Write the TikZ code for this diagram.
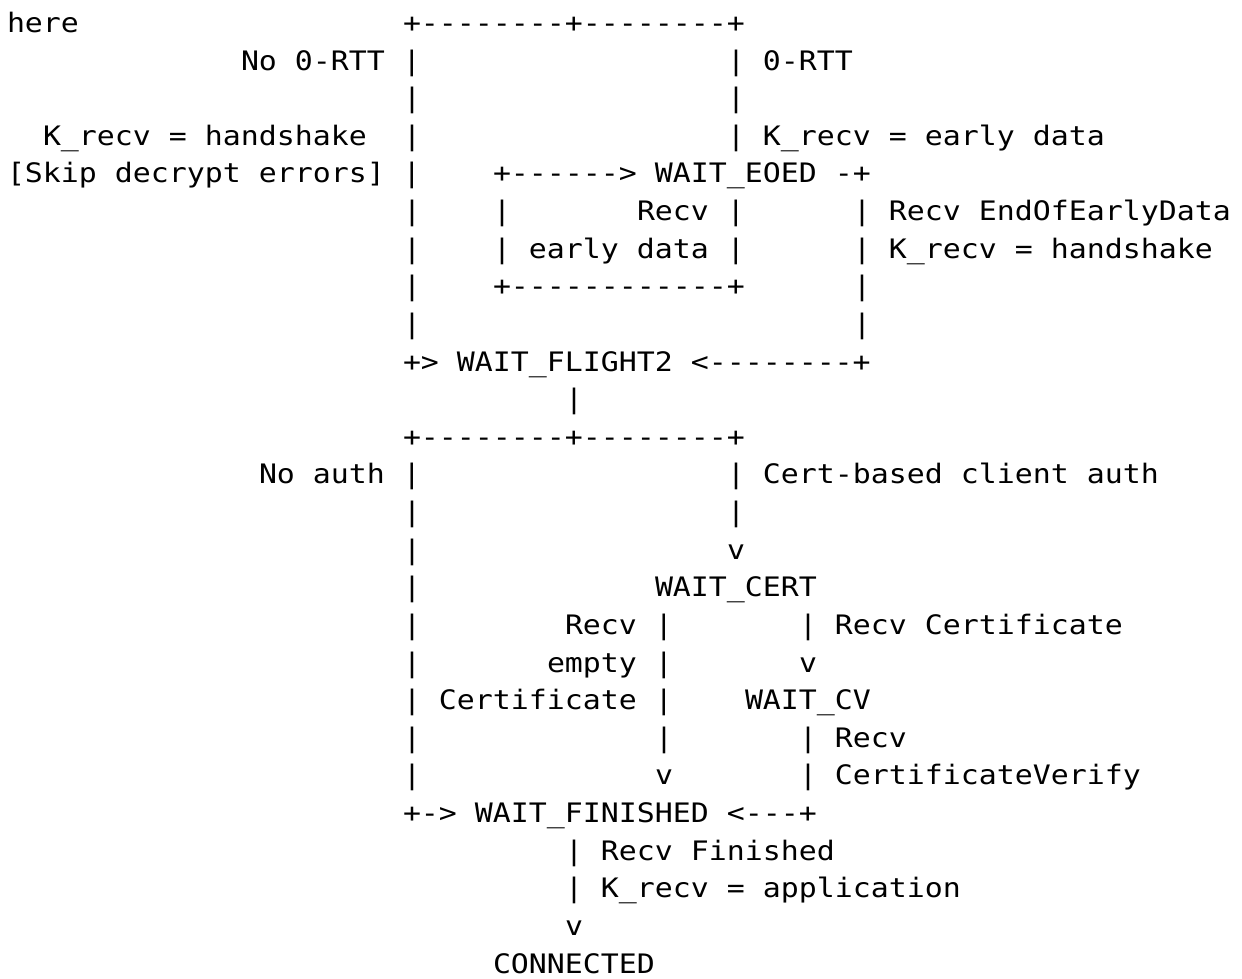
\documentclass[tikz,border=0pt]{standalone}
\usepackage{fontspec}
\setmonofont{DejaVu Sans Mono}[FakeStretch=1.115]
\tikzset{
  txt/.style={anchor=base west, inner sep=0pt, outer sep=0pt,
    font=\ttfamily\fontsize{26.8}{32}\selectfont, text=black}
}
\newcommand\seg[5][]{\node[txt,#1] (#2) at (#3,#4) {#5};}
\begin{document}
\frenchspacing
\begin{tikzpicture}
\useasboundingbox[fill=white] (0pt,0pt) rectangle (1242pt,-978pt);
\begin{scope}[x=18pt,y=-37.62pt,shift={(7pt,5.12pt)}]
% line 1
\seg{a1}{0}{1}{here}
\seg{b1}{22}{1}{+--------+--------+}
% line 2
\seg{a2}{13}{2}{No 0-RTT |}
\seg{b2}{40}{2}{| 0-RTT}
% line 3
\seg{a3}{22}{3}{|}
\seg{b3}{40}{3}{|}
% line 4
\seg{a4}{2}{4}{K\_recv = handshake}
\seg{b4}{22}{4}{|}
\seg{c4}{40}{4}{| K\_recv = early data}
% line 5
\seg{a5}{0}{5}{[Skip decrypt errors] |}
\seg{b5}{27}{5}{+------> WAIT\_EOED -+}
% line 6
\seg{a6}{22}{6}{|}
\seg{b6}{27}{6}{|}
\seg{c6}{35}{6}{Recv |}
\seg{d6}{47}{6}{| Recv EndOfEarlyData}
% line 7
\seg{a7}{22}{7}{|}
\seg{b7}{27}{7}{| early data |}
\seg{c7}{47}{7}{| K\_recv = handshake}
% line 8
\seg{a8}{22}{8}{|}
\seg{b8}{27}{8}{+------------+}
\seg{c8}{47}{8}{|}
% line 9
\seg{a9}{22}{9}{|}
\seg{b9}{47}{9}{|}
% line 10
\seg{a10}{22}{10}{+> WAIT\_FLIGHT2 <--------+}
% line 11
\seg{a11}{31}{11}{|}
% line 12
\seg{a12}{22}{12}{+--------+--------+}
% line 13
\seg{a13}{14}{13}{No auth |}
\seg{b13}{40}{13}{| Cert-based client auth}
% line 14
\seg{a14}{22}{14}{|}
\seg{b14}{40}{14}{|}
% line 15
\seg{a15}{22}{15}{|}
\seg{b15}{40}{15}{v}
% line 16
\seg{a16}{22}{16}{|}
\seg{b16}{36}{16}{WAIT\_CERT}
% line 17
\seg{a17}{22}{17}{|}
\seg{b17}{31}{17}{Recv |}
\seg{c17}{44}{17}{| Recv Certificate}
% line 18
\seg{a18}{22}{18}{|}
\seg{b18}{30}{18}{empty |}
\seg{c18}{44}{18}{v}
% line 19
\seg{a19}{22}{19}{| Certificate |}
\seg{b19}{41}{19}{WAIT\_CV}
% line 20
\seg{a20}{22}{20}{|}
\seg{b20}{36}{20}{|}
\seg{c20}{44}{20}{| Recv}
% line 21
\seg{a21}{22}{21}{|}
\seg{b21}{36}{21}{v}
\seg{c21}{44}{21}{| CertificateVerify}
% line 22
\seg{a22}{22}{22}{+-> WAIT\_FINISHED <---+}
% line 23
\seg{a23}{31}{23}{| Recv Finished}
% line 24
\seg{a24}{31}{24}{| K\_recv = application}
% line 25
\seg{a25}{31}{25}{v}
% line 26
\seg[text depth=0pt]{a26}{27}{26}{CONNECTED}
\end{scope}
\end{tikzpicture}
\end{document}
